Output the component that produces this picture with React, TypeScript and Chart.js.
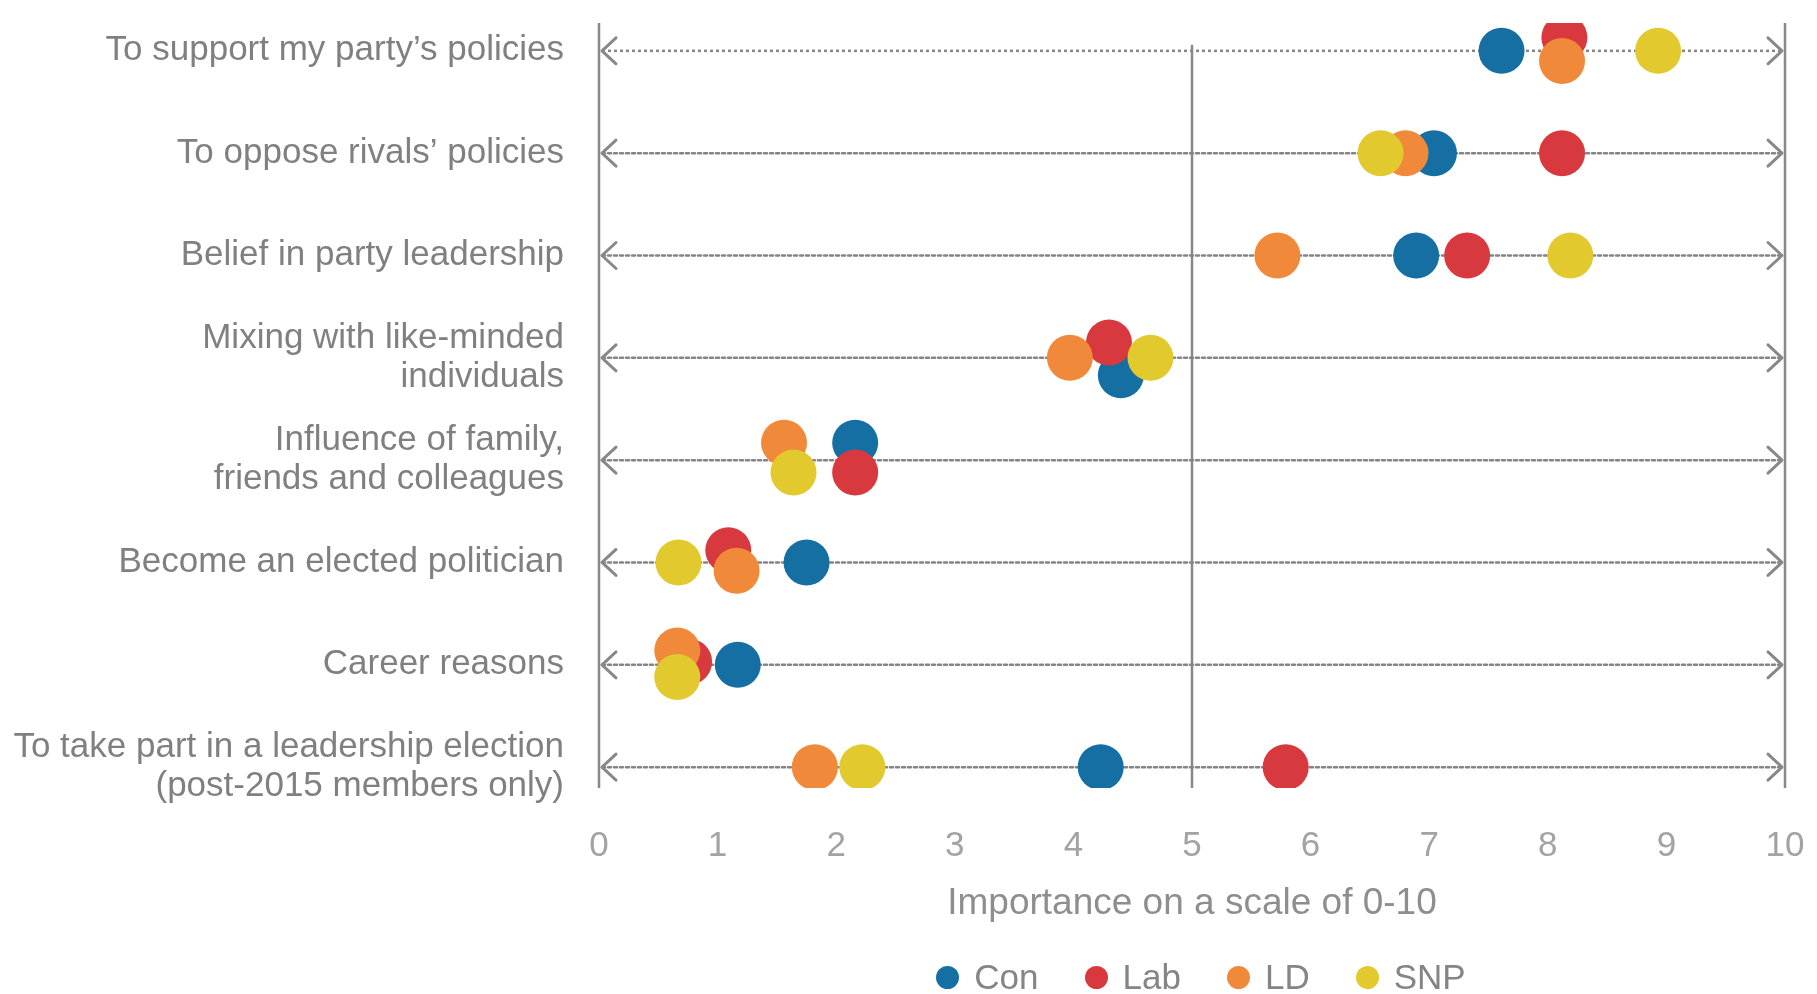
import React, { useEffect, useRef } from "react";
import { Chart, registerables } from "chart.js";

Chart.register(...registerables);

// ---------- data ----------
const categories: (string | string[])[] = [
  "To support my party’s policies",
  "To oppose rivals’ policies",
  "Belief in party leadership",
  ["Mixing with like-minded", "individuals"],
  ["Influence of family,", "friends and colleagues"],
  "Become an elected politician",
  "Career reasons",
  ["To take part in a leadership election", "(post-2015 members only)"],
];

const seriesNames = ["Con", "Lab", "LD", "SNP"];

const conValues = [7.61, 7.04, 6.89, 4.4, 2.16, 1.75, 1.17, 4.23];
const labValues = [8.14, 8.12, 7.32, 4.3, 2.16, 1.09, 0.76, 5.79];
const ldValues = [8.12, 6.8, 5.72, 3.97, 1.56, 1.16, 0.66, 1.82];
const snpValues = [8.93, 6.59, 8.19, 4.65, 1.64, 0.67, 0.66, 2.22];

// vertical dodge (in row units) used to separate overlapping dots
const conDodge = [0, 0, 0, 0.17, -0.17, 0, 0, 0];
const labDodge = [-0.13, 0, 0, -0.15, 0.12, -0.12, -0.03, 0];
const ldDodge = [0.1, 0, 0, 0, -0.17, 0.08, -0.14, 0];
const snpDodge = [0, 0, 0, 0, 0.12, 0, 0.12, 0];

const xTickLabels = ["0", "1", "2", "3", "4", "5", "6", "7", "8", "9", "10"];
const xTitle = "Importance on a scale of 0-10";

// ---------- styles ----------
const colors = ["#166fa3", "#d8393f", "#f08a3a", "#e2c92e"];
const FONT = "'Liberation Sans', Arial, sans-serif";
const AXIS_GRAY = "#888888";

const allValues = [conValues, labValues, ldValues, snpValues];
const allDodges = [conDodge, labDodge, ldDodge, snpDodge];

const rowDecor = {
  id: "rowDecor",
  beforeDatasetsDraw(chart: any) {
    const { ctx, chartArea, scales } = chart;
    const x = scales.x;
    const y = scales.y;
    const left = x.getPixelForValue(0);
    const mid = x.getPixelForValue(5);
    const right = x.getPixelForValue(10);
    ctx.save();
    // vertical reference lines
    ctx.strokeStyle = AXIS_GRAY;
    ctx.lineWidth = 2.5;
    ctx.setLineDash([]);
    ctx.beginPath();
    ctx.moveTo(left, chartArea.top);
    ctx.lineTo(left, chartArea.bottom);
    ctx.moveTo(right, chartArea.top);
    ctx.lineTo(right, chartArea.bottom);
    ctx.moveTo(mid, y.getPixelForValue(0) - 6);
    ctx.lineTo(mid, chartArea.bottom);
    ctx.stroke();
    categories.forEach((_, i) => {
      const py = y.getPixelForValue(i);
      // dotted row line
      ctx.strokeStyle = "#858585";
      ctx.lineWidth = 2.5;
      ctx.setLineDash([3, 3]);
      ctx.beginPath();
      ctx.moveTo(left + 3, py);
      ctx.lineTo(right - 3, py);
      ctx.stroke();
      // arrow heads
      ctx.setLineDash([]);
      ctx.strokeStyle = AXIS_GRAY;
      ctx.lineWidth = 3;
      ctx.lineJoin = "round";
      ctx.lineCap = "round";
      ctx.beginPath();
      ctx.moveTo(left + 17, py - 13);
      ctx.lineTo(left + 3, py);
      ctx.lineTo(left + 17, py + 13);
      ctx.moveTo(right - 17, py - 13);
      ctx.lineTo(right - 3, py);
      ctx.lineTo(right - 17, py + 13);
      ctx.stroke();
    });
    ctx.restore();
  },
};

export default function App() {
  const canvasRef = useRef<HTMLCanvasElement | null>(null);

  useEffect(() => {
    document.body.style.margin = "0";
    const canvas = canvasRef.current;
    if (!canvas) return;
    Chart.defaults.font.family = FONT;

    const datasets = seriesNames.map((name, s) => ({
      label: name,
      data: allValues[s].map((v, i) => ({ x: v, y: i + allDodges[s][i] })),
      backgroundColor: colors[s],
      borderColor: colors[s],
      borderWidth: 0,
      pointRadius: 23,
      pointHoverRadius: 23,
      order: seriesNames.length - s,
    }));

    const chart = new Chart(canvas, {
      type: "scatter",
      data: { datasets },
      plugins: [rowDecor],
      options: {
        animation: false,
        responsive: false,
        devicePixelRatio: 1,
        layout: { padding: { top: 18, right: 32, bottom: 68, left: 0 } },
        plugins: {
          legend: { display: false },
          tooltip: { enabled: false },
        },
        scales: {
          x: {
            type: "linear",
            min: 0,
            max: 10,
            grid: { display: false, drawTicks: false },
            border: { display: false },
            afterFit: (scale: any) => {
              scale.height = 138;
              scale.paddingLeft = 0;
              scale.paddingRight = 0;
            },
            ticks: {
              stepSize: 1,
              padding: 37,
              color: "#a3a3a3",
              font: { size: 35, lineHeight: 1.2 },
              callback: (_v: any, i: number) => xTickLabels[i],
            },
            title: {
              display: true,
              text: xTitle,
              color: "#8e8e8e",
              font: { size: 37, lineHeight: 1.2 },
              padding: { top: 0, bottom: 0 },
            },
          },
          y: {
            type: "linear",
            reverse: true,
            min: -0.272,
            max: 7.204,
            grid: { display: false, drawTicks: false },
            border: { display: false },
            afterBuildTicks: (scale: any) => {
              scale.ticks = categories.map((_, i) => ({ value: i }));
            },
            afterFit: (scale: any) => {
              scale.width = 599;
              scale.paddingTop = 0;
              scale.paddingBottom = 0;
            },
            ticks: {
              padding: 35,
              color: "#808080",
              font: { size: 35, lineHeight: 1.11 },
              autoSkip: false,
              callback: (v: any) => categories[v as number],
            },
          },
        },
      },
    });
    return () => chart.destroy();
  }, []);

  return (
    <div style={{ position: "relative", width: 1817, height: 994, background: "#fff", overflow: "hidden" }}>
      <canvas ref={canvasRef} width={1817} height={994} style={{ display: "block" }} />
      <div
        style={{
          position: "absolute",
          left: 599,
          width: 1186,
          top: 956,
          height: 42,
          display: "flex",
          justifyContent: "center",
          alignItems: "center",
          paddingLeft: 18,
          boxSizing: "border-box",
          fontFamily: FONT,
          fontSize: 35,
          color: "#858585",
        }}
      >
        {seriesNames.map((name, s) => (
          <div key={name} style={{ display: "flex", alignItems: "center", marginLeft: s === 0 ? 0 : 46 }}>
            <span
              style={{
                display: "inline-block",
                width: 23,
                height: 23,
                borderRadius: "50%",
                background: colors[s],
                marginRight: 15,
              }}
            />
            <span>{name}</span>
          </div>
        ))}
      </div>
    </div>
  );
}
